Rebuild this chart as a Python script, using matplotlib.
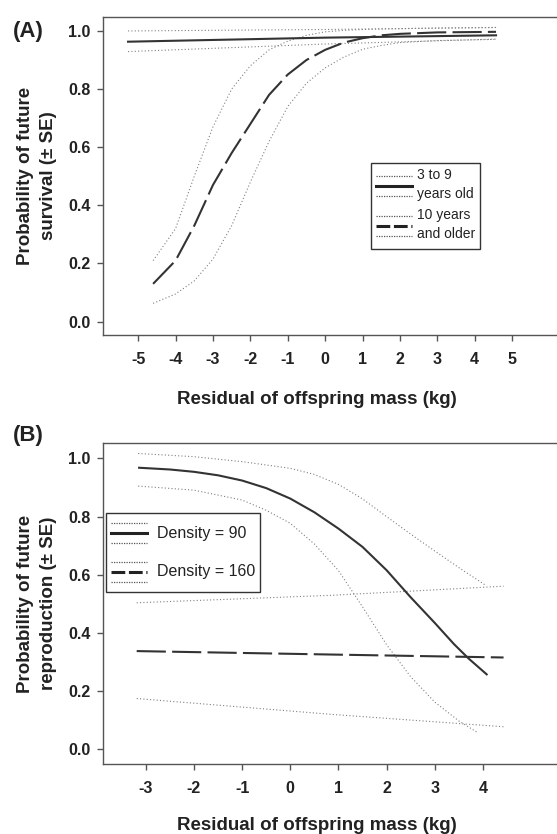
import matplotlib
matplotlib.use("Agg")
import matplotlib.pyplot as plt
from matplotlib.lines import Line2D
from matplotlib.legend_handler import HandlerBase

plt.rcParams['font.family'] = ['Liberation Sans', 'DejaVu Sans']
plt.rcParams['axes.unicode_minus'] = False

# ---------- Panel A : survival ----------
a_young_x = [-5.27, 0.0, 4.57]
a_young = [0.963, 0.977, 0.985]
a_young_hi = [1.0, 1.005, 1.012]
a_young_lo = [0.929, 0.955, 0.972]

a_old_x = [-4.6, -4.0, -3.5, -3.0, -2.5, -2.0, -1.5, -1.0, -0.5, 0.0, 0.5, 1.0, 1.5, 2.0, 3.0, 4.57]
a_old = [0.13, 0.21, 0.33, 0.47, 0.58, 0.68, 0.78, 0.85, 0.90, 0.935, 0.96, 0.975, 0.985, 0.99, 0.995, 0.997]
a_old_hi = [0.21, 0.32, 0.50, 0.67, 0.80, 0.88, 0.935, 0.965, 0.985, 0.997, 1.002, 1.005, 1.007, 1.008, 1.01, 1.012]
a_old_lo = [0.063, 0.095, 0.14, 0.215, 0.33, 0.48, 0.62, 0.74, 0.82, 0.873, 0.91, 0.937, 0.95, 0.96, 0.967, 0.971]

a_xticks = [-5, -4, -3, -2, -1, 0, 1, 2, 3, 4, 5]

# ---------- Panel B : reproduction ----------
b_d90_x = [-3.14, -2.5, -2.0, -1.5, -1.0, -0.5, 0.0, 0.5, 1.0, 1.5, 2.0, 2.5, 3.0, 3.4, 3.7, 4.08]
b_d90 = [0.968, 0.962, 0.954, 0.942, 0.924, 0.898, 0.862, 0.815, 0.759, 0.696, 0.616, 0.523, 0.435, 0.362, 0.313, 0.258]
b_d90_hi_x = [-3.16, -2.0, -1.0, 0.0, 0.5, 1.0, 1.5, 2.0, 2.5, 3.0, 3.5, 4.05]
b_d90_hi = [1.017, 1.006, 0.989, 0.966, 0.945, 0.911, 0.861, 0.80, 0.74, 0.682, 0.625, 0.565]
b_d90_lo_x = [-3.16, -2.0, -1.0, -0.5, 0.0, 0.5, 1.0, 1.5, 2.0, 2.5, 3.0, 3.5, 3.9]
b_d90_lo = [0.905, 0.891, 0.857, 0.822, 0.777, 0.706, 0.615, 0.49, 0.36, 0.25, 0.163, 0.098, 0.057]

b_d160_x = [-3.19, 0.9, 4.43]
b_d160 = [0.338, 0.326, 0.316]
b_d160_hi = [0.504, 0.53, 0.561]
b_d160_lo = [0.175, 0.12, 0.078]

b_xticks = [-3, -2, -1, 0, 1, 2, 3, 4]

yticks = [0.0, 0.2, 0.4, 0.6, 0.8, 1.0]

DOT = dict(color='#808080', lw=0.8, ls=(0, (1, 2)))
SOLID = dict(color='#333333', lw=1.5, ls='-')
DASH = dict(color='#333333', lw=1.5, ls=(0, (14, 3)))
TXT = '#222222'


class TripleHandler(HandlerBase):
    """Legend key: dotted / main / dotted stacked lines."""
    def __init__(self, main_ls, gap=7.2):
        super().__init__()
        self.main_ls = main_ls
        self.gap = gap

    def create_artists(self, legend, orig_handle, xdescent, ydescent,
                       width, height, fontsize, trans):
        y0 = height / 2 - ydescent
        xs = [-xdescent, width - xdescent]
        out = []
        for dy, kw in [(self.gap, dict(color='#555555', lw=0.9, ls=(0, (1, 1)))),
                       (0, dict(color='#222222', lw=2.2, ls=self.main_ls)),
                       (-self.gap, dict(color='#555555', lw=0.9, ls=(0, (1, 1))))]:
            ln = Line2D(xs, [y0 + dy, y0 + dy], **kw)
            ln.set_transform(trans)
            out.append(ln)
        return out


def style_axes(ax, xticks, ylabel, xpad):
    for s in ['top', 'left', 'bottom']:
        ax.spines[s].set_color('#555555')
        ax.spines[s].set_linewidth(1.0)
    ax.spines['right'].set_visible(False)
    ax.set_xticks(xticks)
    ax.set_xticklabels([str(t) for t in xticks])
    ax.set_yticks(yticks)
    ax.set_yticklabels([f"{t:.1f}" for t in yticks])
    ax.tick_params(axis='both', direction='out', length=4, width=1,
                   color='#555555', labelcolor=TXT, labelsize=11.5)
    ax.tick_params(axis='x', pad=8.5)
    ax.tick_params(axis='y', pad=5)
    for lab in ax.get_xticklabels() + ax.get_yticklabels():
        lab.set_fontweight('bold')
    ax.set_xlabel('Residual of offspring mass (kg)', fontsize=13.5,
                  fontweight='bold', color=TXT, labelpad=xpad)
    # the x label sits left of the axes centre in the original
    ax.xaxis.label.set_x(0.471)
    ax.set_ylabel(ylabel, fontsize=13.5, fontweight='bold', color=TXT,
                  labelpad=8, linespacing=1.45)


fig = plt.figure(figsize=(5.57, 8.34), dpi=100)

# Panel A
axA = fig.add_axes([103 / 557, 1 - 335 / 834, 454 / 557, 318 / 834])
axA.plot(a_young_x, a_young_hi, **DOT)
axA.plot(a_young_x, a_young_lo, **DOT)
axA.plot(a_old_x, a_old_hi, **DOT)
axA.plot(a_old_x, a_old_lo, **DOT)
axA.plot(a_young_x, a_young, **SOLID)
axA.plot(a_old_x, a_old, **DASH)
axA.set_xlim(-5.94, 6.2)
axA.set_ylim(-0.046, 1.048)
style_axes(axA, a_xticks, 'Probability of future\nsurvival (± SE)', 17)

hA1, = axA.plot([], [])
hA2, = axA.plot([], [])
legA = axA.legend([hA1, hA2], ['3 to 9\nyears old', '10 years\nand older'],
                  handler_map={hA1: TripleHandler('-'), hA2: TripleHandler((0, (4.5, 1.2)))},
                  loc='upper left', bbox_to_anchor=(0.59, 0.54), borderaxespad=0,
                  fontsize=10, handlelength=2.6, handleheight=3.6, handletextpad=0.4,
                  labelspacing=0.28, borderpad=0.35, fancybox=False, framealpha=1,
                  edgecolor='#333333', labelcolor=TXT)
legA.get_frame().set_linewidth(1.0)
for t in legA.get_texts():
    t.set_linespacing(1.45)
fig.text(28 / 557, 1 - 31 / 834, '(A)', fontsize=16, fontweight='bold',
         color=TXT, ha='center', va='center')

# Panel B
axB = fig.add_axes([103 / 557, 1 - 764 / 834, 454 / 557, 320.7 / 834])
axB.plot(b_d90_hi_x, b_d90_hi, **DOT)
axB.plot(b_d90_lo_x, b_d90_lo, **DOT)
axB.plot(b_d160_x, b_d160_hi, **DOT)
axB.plot(b_d160_x, b_d160_lo, **DOT)
axB.plot(b_d90_x, b_d90, **SOLID)
axB.plot(b_d160_x, b_d160, **DASH)
axB.set_xlim(-3.89, 5.54)
axB.set_ylim(-0.05, 1.052)
style_axes(axB, b_xticks, 'Probability of future\nreproduction (± SE)', 14.5)

hB1, = axB.plot([], [])
hB2, = axB.plot([], [])
legB = axB.legend([hB1, hB2], ['Density = 90', 'Density = 160'],
                  handler_map={hB1: TripleHandler('-'), hB2: TripleHandler((0, (4.5, 1.2)))},
                  loc='upper left', bbox_to_anchor=(0.006, 0.784), borderaxespad=0,
                  fontsize=11.5, handlelength=2.3, handleheight=2.7, handletextpad=0.6,
                  labelspacing=0.4, borderpad=0.3, fancybox=False, framealpha=1,
                  edgecolor='#333333', labelcolor=TXT)
legB.get_frame().set_linewidth(1.0)
fig.text(28 / 557, 1 - 435 / 834, '(B)', fontsize=16, fontweight='bold',
         color=TXT, ha='center', va='center')

fig.savefig('out.png', dpi=100)
